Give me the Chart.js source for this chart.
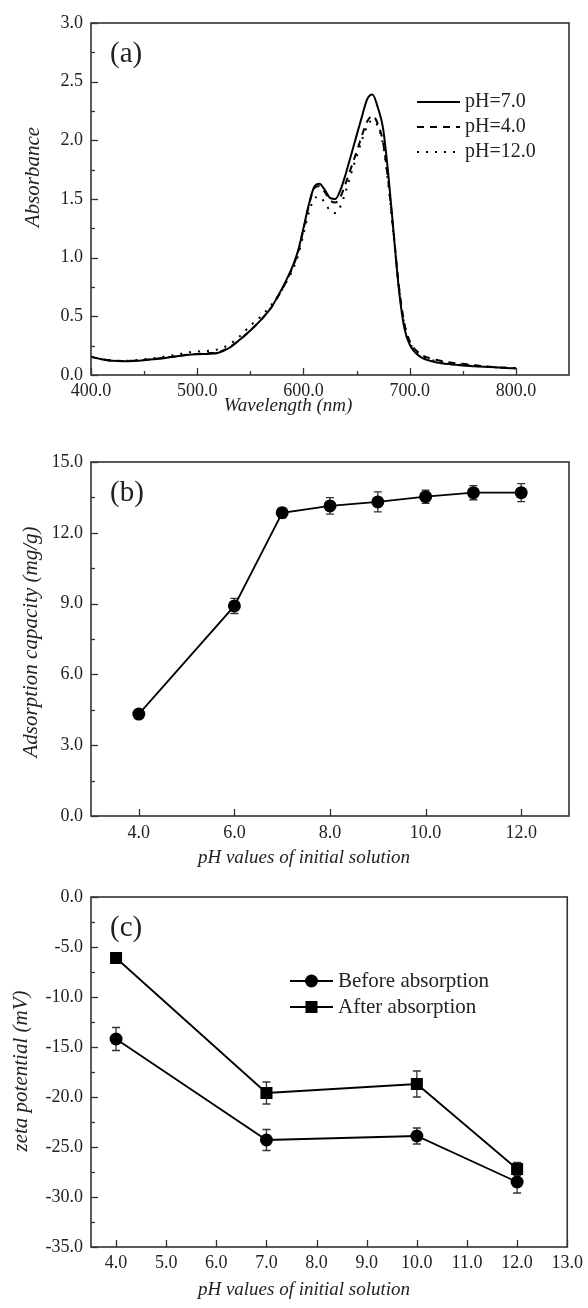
<!DOCTYPE html>
<html><head><meta charset="utf-8">
<script src="https://cdn.jsdelivr.net/npm/chart.js@4.4.1/dist/chart.umd.min.js"></script>
<style>
html,body{margin:0;padding:0;background:#fff;}
body{width:588px;height:1308px;position:relative;overflow:hidden;}
.p{position:absolute;left:0;width:588px;}
canvas{display:block;}
</style></head><body>
<div class="p" style="top:0;height:420px"><canvas id="ca" width="588" height="420"></canvas></div>
<div class="p" style="top:420px;height:450px"><canvas id="cb" width="588" height="450"></canvas></div>
<div class="p" style="top:870px;height:438px"><canvas id="cc" width="588" height="438"></canvas></div>
<script>
// ---------- DATA ----------
// Panel (a): UV-vis spectra
const wavelength = [400,410,420,430,440,450,460,470,480,490,500,510,520,530,540,550,560,570,580,585,590,595,600,605,610,615,620,625,630,635,640,645,650,655,660,665,670,675,680,685,690,695,700,710,720,730,740,750,760,770,780,790,800];
const absPH7 = [0.155,0.135,0.122,0.118,0.12,0.126,0.135,0.145,0.158,0.17,0.177,0.18,0.19,0.23,0.30,0.38,0.47,0.58,0.74,0.83,0.93,1.06,1.25,1.45,1.60,1.63,1.58,1.51,1.50,1.58,1.72,1.88,2.04,2.20,2.35,2.39,2.28,2.10,1.70,1.20,0.72,0.40,0.26,0.155,0.12,0.10,0.09,0.08,0.075,0.07,0.065,0.06,0.058];
const absPH4 = [0.155,0.135,0.122,0.12,0.122,0.128,0.137,0.148,0.16,0.172,0.18,0.185,0.195,0.235,0.30,0.38,0.47,0.58,0.73,0.82,0.92,1.05,1.24,1.44,1.59,1.61,1.56,1.49,1.47,1.52,1.64,1.77,1.90,2.04,2.16,2.21,2.14,1.98,1.64,1.20,0.75,0.44,0.29,0.18,0.14,0.12,0.105,0.095,0.085,0.075,0.068,0.062,0.058];
const absPH12 = [0.155,0.135,0.122,0.12,0.125,0.135,0.145,0.158,0.172,0.19,0.20,0.205,0.22,0.26,0.33,0.42,0.50,0.60,0.73,0.81,0.90,1.02,1.20,1.38,1.50,1.52,1.47,1.40,1.38,1.44,1.57,1.72,1.86,2.00,2.12,2.17,2.12,1.96,1.62,1.18,0.73,0.43,0.28,0.17,0.13,0.11,0.095,0.085,0.078,0.072,0.066,0.061,0.058];
const seriesA = ['pH=7.0','pH=4.0','pH=12.0'];
const ticksAx = [400,500,600,700,800];
const ticksAy = [0,0.5,1.0,1.5,2.0,2.5,3.0];

// Panel (b): adsorption capacity vs pH
const pHb = [4,6,7,8,9,10,11,12];
const capacity = [4.32,8.9,12.85,13.14,13.31,13.53,13.7,13.7];
const capacityErr = [0.15,0.32,0.22,0.35,0.42,0.28,0.3,0.38];
const ticksBx = [4,6,8,10,12];
const ticksBy = [0,3,6,9,12,15];

// Panel (c): zeta potential vs pH
const pHc = [4,7,10,12];
const zetaBefore = [-14.2,-24.3,-23.9,-28.5];
const zetaBeforeErr = [1.15,1.05,0.8,1.1];
const zetaAfter = [-6.1,-19.6,-18.7,-27.2];
const zetaAfterErr = [0.5,1.1,1.3,0.65];
const seriesC = ['Before absorption','After absorption'];
const ticksCx = [4,5,6,7,8,9,10,11,12,13];
const ticksCy = [0,-5,-10,-15,-20,-25,-30,-35];

// ---------- STYLE HELPERS ----------
const FONT = "'Liberation Serif','Times New Roman',serif";
const TXT = '#222';
const AX = '#333';

const decor = {
  id:'decor',
  afterDraw(chart, args, o){
    const {ctx, chartArea:a, scales:{x,y}} = chart;
    ctx.save();
    ctx.strokeStyle = AX; ctx.lineWidth = 1.3;
    const seg=(x1,y1,x2,y2)=>{ctx.beginPath();ctx.moveTo(x1,y1);ctx.lineTo(x2,y2);ctx.stroke();};
    const xv = x.ticks.map(t=>t.value), yv = y.ticks.map(t=>t.value);
    xv.forEach(v=>{const p=Math.round(x.getPixelForValue(v))+0.5; seg(p,a.bottom,p,a.bottom-7);});
    yv.forEach(v=>{const p=Math.round(y.getPixelForValue(v))+0.5; seg(a.left,p,a.left+7,p);});
    if(o.xMinor){ for(let i=0;i<xv.length-1;i++){const p=Math.round(x.getPixelForValue((xv[i]+xv[i+1])/2))+0.5; seg(p,a.bottom,p,a.bottom-4);} }
    if(o.yMinor){ for(let i=0;i<yv.length-1;i++){const p=Math.round(y.getPixelForValue((yv[i]+yv[i+1])/2))+0.5; seg(a.left,p,a.left+4,p);} }
    ctx.lineWidth = 1.6;
    ctx.strokeRect(a.left, a.top, a.right-a.left, a.bottom-a.top);
    ctx.fillStyle = TXT; ctx.font = '29px '+FONT; ctx.textBaseline='middle'; ctx.textAlign='left';
    ctx.fillText(o.label, a.left+19, a.top+31);
    // axis titles (placed as in the original figure)
    ctx.font = 'italic 19px '+FONT; ctx.textAlign='center';
    ctx.fillText(o.xtitle, o.xtitleX, o.xtitleY);
    ctx.font = 'italic 21px '+FONT;
    ctx.translate(o.ytitleX, o.ytitleY); ctx.rotate(-Math.PI/2);
    ctx.fillText(o.ytitle, 0, 0);
    ctx.restore();
  }
};

const errBars = {
  id:'errBars',
  beforeDatasetsDraw(chart){
    const {ctx} = chart;
    chart.data.datasets.forEach((ds,i)=>{
      if(!ds.errors) return;
      const meta = chart.getDatasetMeta(i);
      const ys = chart.scales[meta.yAxisID];
      ctx.save(); ctx.strokeStyle = '#333'; ctx.lineWidth = 1.3;
      meta.data.forEach((pt,j)=>{
        const v = ds.data[j].y, e = ds.errors[j];
        const y1 = ys.getPixelForValue(v+e), y2 = ys.getPixelForValue(v-e);
        ctx.beginPath();
        ctx.moveTo(pt.x,y1); ctx.lineTo(pt.x,y2);
        ctx.moveTo(pt.x-4,y1); ctx.lineTo(pt.x+4,y1);
        ctx.moveTo(pt.x-4,y2); ctx.lineTo(pt.x+4,y2);
        ctx.stroke();
      });
      ctx.restore();
    });
  }
};

const lineLegend = {
  id:'lineLegend',
  afterDraw(chart, args, o){
    if(!o.items) return;
    const {ctx} = chart;
    ctx.save();
    o.items.forEach((it,i)=>{
      const ds = chart.data.datasets[it.ds];
      const yy = o.y + i*o.dy;
      ctx.strokeStyle = ds.borderColor; ctx.lineWidth = ds.borderWidth;
      ctx.setLineDash(ds.borderDash||[]);
      ctx.beginPath(); ctx.moveTo(o.x1,yy); ctx.lineTo(o.x2,yy); ctx.stroke();
      ctx.setLineDash([]);
      if(o.marker){
        const cx=(o.x1+o.x2)/2;
        ctx.fillStyle = ds.pointBackgroundColor;
        Chart.helpers.drawPoint(ctx,{pointStyle:ds.pointStyle,radius:ds.pointRadius,borderWidth:0,rotation:0},cx,yy);
      }
      ctx.fillStyle = TXT; ctx.font = o.size+'px '+FONT; ctx.textBaseline='middle'; ctx.textAlign='left';
      ctx.fillText(ds.label, o.tx, yy);
    });
    ctx.restore();
  }
};

function baseOptions(c){
  return {
    responsive:false, animation:false, events:[],
    layout:{padding:{top:c.top,right:19,left:0,bottom:0}},
    plugins:{legend:{display:false},tooltip:{enabled:false},
      decor:{label:c.label,xMinor:c.xMinor,yMinor:c.yMinor,xtitle:c.xtitle,xtitleX:c.xtx,xtitleY:c.xty,
             ytitle:c.ytitle,ytitleX:c.ytx,ytitleY:c.yty},
      lineLegend:c.legend||{}},
    scales:{
      x:{type:'linear',min:c.xmin,max:c.xmax,
        afterFit:s=>{s.height=c.xh;},
        afterBuildTicks:s=>{s.ticks=c.xticks.map(v=>({value:v}));},
        grid:{display:false,drawTicks:false}, border:{display:false},
        ticks:{font:{family:FONT,size:18},color:TXT,padding:c.xpad,autoSkip:false,maxRotation:0,callback:v=>Number(v).toFixed(1)},
        title:{display:false}
      },
      y:{type:'linear',min:c.ymin,max:c.ymax,
        afterFit:s=>{s.width=91;},
        afterBuildTicks:s=>{s.ticks=c.yticks.map(v=>({value:v}));},
        grid:{display:false,drawTicks:false}, border:{display:false},
        ticks:{font:{family:FONT,size:18},color:TXT,padding:8,autoSkip:false,callback:v=>Number(v).toFixed(1)},
        title:{display:false}
      }
    }
  };
}
const pts = (xs,ys)=>xs.map((v,i)=>({x:v,y:ys[i]}));

// ---------- PANEL A ----------
new Chart(document.getElementById('ca'),{
  type:'line',
  data:{datasets:[
    {label:seriesA[0],data:pts(wavelength,absPH7),borderColor:'#000',borderWidth:2,pointRadius:0,cubicInterpolationMode:'monotone',fill:false},
    {label:seriesA[1],data:pts(wavelength,absPH4),borderColor:'#000',borderWidth:2,borderDash:[7,6],pointRadius:0,cubicInterpolationMode:'monotone',fill:false},
    {label:seriesA[2],data:pts(wavelength,absPH12),borderColor:'#000',borderWidth:2,borderDash:[2,7],pointRadius:0,cubicInterpolationMode:'monotone',fill:false}
  ]},
  options:baseOptions({top:23,xh:45,xmin:400,xmax:850,ymin:0,ymax:3,xticks:ticksAx,yticks:ticksAy,xpad:5,
    xtitle:'Wavelength (nm)',xtx:288,xty:406,ytitle:'Absorbance',ytx:33,yty:177,label:'(a)',xMinor:true,yMinor:true,
    legend:{items:[{ds:0},{ds:1},{ds:2}],x1:417,x2:460,tx:465,y:102,dy:25,size:20}}),
  plugins:[decor,lineLegend]
});

// ---------- PANEL B ----------
new Chart(document.getElementById('cb'),{
  type:'line',
  data:{datasets:[
    {label:'Adsorption capacity',data:pts(pHb,capacity),errors:capacityErr,borderColor:'#000',borderWidth:1.8,
     pointRadius:6.5,pointStyle:'circle',pointBackgroundColor:'#000',pointBorderWidth:0,tension:0,fill:false}
  ]},
  options:baseOptions({top:42,xh:54,xmin:3,xmax:13,ymin:0,ymax:15,xticks:ticksBx,yticks:ticksBy,xpad:6,
    xtitle:'pH values of initial solution',xtx:304,xty:438,ytitle:'Adsorption capacity (mg/g)',ytx:31,yty:222,label:'(b)',xMinor:false,yMinor:true}),
  plugins:[errBars,decor]
});

// ---------- PANEL C ----------
new Chart(document.getElementById('cc'),{
  type:'line',
  data:{datasets:[
    {label:seriesC[0],data:pts(pHc,zetaBefore),errors:zetaBeforeErr,borderColor:'#000',borderWidth:1.8,
     pointRadius:6.5,pointStyle:'circle',pointBackgroundColor:'#000',pointBorderWidth:0,tension:0,fill:false},
    {label:seriesC[1],data:pts(pHc,zetaAfter),errors:zetaAfterErr,borderColor:'#000',borderWidth:1.8,
     pointRadius:8.5,pointStyle:'rect',pointBackgroundColor:'#000',pointBorderWidth:0,tension:0,fill:false}
  ]},
  options:baseOptions({top:27,xh:61,xmin:3.5,xmax:13,ymin:-35,ymax:0,xticks:ticksCx,yticks:ticksCy,xpad:5,
    xtitle:'pH values of initial solution',xtx:304,xty:420,ytitle:'zeta potential (mV)',ytx:21,yty:201,label:'(c)',xMinor:false,yMinor:true,
    legend:{items:[{ds:0},{ds:1}],x1:290,x2:333,tx:338,y:111,dy:26,size:21,marker:true}}),
  plugins:[errBars,decor,lineLegend]
});
</script>
</body></html>
